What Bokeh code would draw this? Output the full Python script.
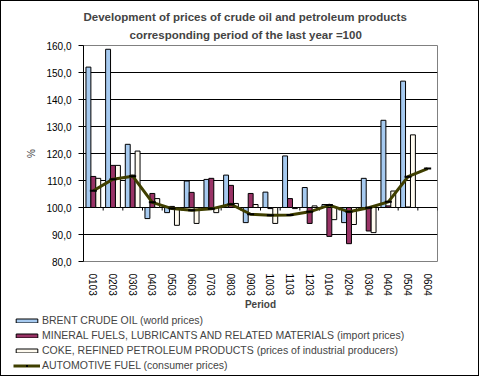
import numpy as np
from bokeh.plotting import figure
from bokeh.layouts import column
from bokeh.models import (ColumnDataSource, FactorRange, Range1d, FixedTicker,
                          Legend, LegendItem, Title)
from bokeh.transform import dodge
from bokeh.embed import file_html
from bokeh.resources import INLINE

periods = ["0103", "0203", "0303", "0403", "0503", "0603", "0703", "0803", "0903",
           "1003", "1103", "1203", "0104", "0204", "0304", "0404", "0504", "0604"]
brent = [152.0, 158.6, 123.4, 95.9, 98.1, 109.8, 110.4, 112.0, 94.4,
         105.7, 119.1, 107.4, 101.1, 94.4, 110.8, 132.3, 146.8, np.nan]
mineral = [111.5, 115.6, 112.0, 105.2, 100.4, 105.6, 110.8, 108.2, 105.2,
           99.6, 103.3, 94.1, 89.3, 86.6, 91.3, 100.6, 100.2, np.nan]
coke = [110.8, 115.6, 120.9, 103.3, 93.4, 94.1, 98.1, 101.5, 101.1,
        94.1, 99.6, 100.6, 95.5, 93.7, 90.7, 106.1, 126.9, np.nan]
fuel = [106.2, 110.5, 111.6, 101.9, 99.6, 99.0, 99.5, 101.2, 97.5,
        97.1, 97.2, 98.4, 100.9, 98.4, 99.9, 102.1, 111.4, 114.4]
y_ticks = [80, 90, 100, 110, 120, 130, 140, 150, 160]
y_tick_labels = ["80,0", "90,0", "100,0", "110,0", "120,0", "130,0", "140,0", "150,0", "160,0"]
baseline = 100

names = ["BRENT CRUDE OIL (world prices)",
         "MINERAL FUELS, LUBRICANTS AND RELATED MATERIALS (import prices)",
         "COKE, REFINED PETROLEUM PRODUCTS (prices of industrial producers)",
         "AUTOMOTIVE FUEL (consumer prices)"]
colors = ["#A6CAF0", "#993366", "#FFFBF0"]
fuel_color = "#3F3F00"

FONT = "Liberation Sans"

src = ColumnDataSource(dict(period=periods,
                            brent=np.array(brent, dtype=float),
                            mineral=np.array(mineral, dtype=float),
                            coke=np.array(coke, dtype=float),
                            fuel=np.array(fuel, dtype=float)))

p = figure(x_range=FactorRange(factors=periods), y_range=Range1d(y_ticks[0], y_ticks[-1]),
           width=477, height=312, output_backend="svg", toolbar_location=None,
           min_border_left=82, min_border_right=41, min_border_top=44, min_border_bottom=52)
p.frame_align = False
p.title.visible = False
p.background_fill_color = "white"
p.border_fill_color = "white"
p.outline_line_color = "#808080"
p.outline_line_width = 1

# y axis
p.yaxis.ticker = FixedTicker(ticks=y_ticks)
p.yaxis.major_label_overrides = {float(t): l for t, l in zip(y_ticks, y_tick_labels)}
p.yaxis.major_label_text_font = FONT
p.yaxis.major_label_text_font_size = "10px"
p.yaxis.major_label_text_color = "black"
p.yaxis.major_tick_out = 5
p.yaxis.major_tick_in = 0
p.yaxis.minor_tick_line_color = None
p.yaxis.major_label_standoff = 7
p.yaxis.axis_line_color = "black"
p.yaxis.major_tick_line_color = "black"
p.yaxis.axis_label = "%"
p.yaxis.axis_label_text_font = FONT
p.yaxis.axis_label_text_font_size = "10px"
p.yaxis.axis_label_text_font_style = "normal"
p.yaxis.axis_label_standoff = 6

p.ygrid.ticker = FixedTicker(ticks=y_ticks[1:-1])
p.ygrid.grid_line_color = "black"
p.ygrid.grid_line_width = 1
p.xgrid.visible = False

# x axis
p.xaxis.major_label_orientation = "vertical"
p.xaxis.major_tick_line_color = None
p.xaxis.axis_line_color = None
p.xaxis.major_label_standoff = 6
p.xaxis.major_label_text_font = FONT
p.xaxis.major_label_text_font_size = "10px"
p.xaxis.major_label_text_color = "black"
p.xaxis.axis_label = "Period"
p.xaxis.axis_label_text_font = FONT
p.xaxis.axis_label_text_font_size = "10px"
p.xaxis.axis_label_text_font_style = "bold"
p.xaxis.axis_label_standoff = 0

# tick marks on the 100 line at category boundaries
p.ray(x=list(range(len(periods) + 1)), y=baseline, length=3, length_units="screen",
      angle=-np.pi / 2, line_color="black", line_width=1)

p.vbar(x=dodge("period", -0.25, range=p.x_range), bottom=baseline, top="brent", width=0.25,
       source=src, fill_color=colors[0], line_color="black", line_width=1)
p.vbar(x=dodge("period", 0.0, range=p.x_range), bottom=baseline, top="mineral", width=0.25,
       source=src, fill_color=colors[1], line_color="black", line_width=1)
p.vbar(x=dodge("period", 0.25, range=p.x_range), bottom=baseline, top="coke", width=0.25,
       source=src, fill_color=colors[2], line_color="black", line_width=1)
p.line(x="period", y="fuel", source=src, line_color=fuel_color, line_width=3)
p.scatter(x="period", y="fuel", source=src, marker="dash", size=7,
          line_color="black", line_width=2)

t2 = Title(text="corresponding period of the last year =100", align="left", offset=46,
           text_font=FONT, text_font_size="11.5px", text_font_style="bold", standoff=9)
t1 = Title(text="Development of prices of crude oil and petroleum products", align="left",
           offset=0, text_font=FONT, text_font_size="11.5px", text_font_style="bold", standoff=0)
p.add_layout(t2, "above")
p.add_layout(t1, "above")

# legend panel (separate figure below the chart, same styles as the series)
lg = figure(width=477, height=62, x_range=Range1d(0, 1), y_range=Range1d(0, 1),
            output_backend="svg", toolbar_location=None, min_border=0,
            x_axis_location=None, y_axis_location=None)
lg.frame_align = False
lg.title.visible = False
lg.grid.visible = False
lg.outline_line_color = None
lg.background_fill_color = "white"
lg.border_fill_color = "white"
key_src = ColumnDataSource(dict(x=np.array([np.nan]), y=np.array([np.nan])))
key_items = []
for name, col in zip(names[:3], colors):
    k = lg.vbar(x="x", top="y", width=0.1, source=key_src, fill_color=col, line_color="black")
    key_items.append(LegendItem(label=name, renderers=[k]))
k4 = lg.line(x="x", y="y", source=key_src, line_color=fuel_color, line_width=3)
k5 = lg.scatter(x="x", y="y", source=key_src, marker="dash", size=7,
                line_color="black", line_width=2)
key_items.append(LegendItem(label=names[3], renderers=[k4, k5]))

legend = Legend(items=key_items, location=(12, 4), orientation="vertical",
                glyph_width=27, glyph_height=5, label_height=12, spacing=3,
                padding=0, margin=0, border_line_color=None, background_fill_alpha=0,
                label_text_font=FONT, label_text_font_size="10.5px", label_standoff=2)
lg.add_layout(legend, "center")

layout = column(p, lg, spacing=0,
                styles={"margin": "1px 0px 0px 1px", "outline": "1px solid #000000"})

open("out.html", "w").write(file_html(layout, INLINE))
